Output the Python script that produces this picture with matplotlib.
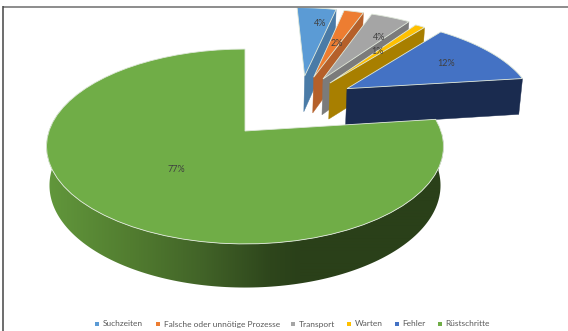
import numpy as np
import matplotlib
matplotlib.use('Agg')
import matplotlib.pyplot as plt
from matplotlib.patches import Polygon, Rectangle

categories = ['Suchzeiten', 'Falsche oder unnötige Prozesse', 'Transport', 'Warten', 'Fehler', 'Rüstschritte']
values = [4, 2, 4, 1, 12, 77]
labels = ['4%', '2%', '4%', '1%', '12%', '77%']

top_colors = ['#5b9bd5', '#ed7d31', '#a5a5a5', '#ffc000', '#4472c4', '#70ad47']
side_colors = ['#4a7ba7', '#b5602a', '#7b7b7b', '#a87f00', '#1a2b4f', '#2c4219']
# how far each slice is pulled out of the pie (pie radius = 1)
explode = [(0.335, 0.637), (0.385, 0.622), (0.436, 0.60), (0.471, 0.549), (0.56, 0.48), (0, 0)]
label_pos = [(320, 24), (337, 43), (379, 37), (377, 51), (446, 63), (176, 169)]
legend_x = [97, 158, 293, 349, 397, 440]

# perspective of the pie, in pixels
cx, cy = 245, 131
focal = 196
squash = 95
depth = 0.159
thick = 39


def project(x, y, z=0.0):
    den = 1 + depth * y - 0.015 * z
    return cx + focal * x / den, cy - (squash * y + thick * z) / den


def arc(a0, a1, off, z=0.0, n=60):
    t = np.radians(np.linspace(a0, a1, n))
    return np.array([project(np.sin(a) + off[0], np.cos(a) + off[1], z) for a in t])


def rim_shading(xs):
    # shading along the rim of the big slice, left to right
    stops = [45, 130, 200, 270, 300, 445]
    rs = [98, 82, 66, 46, 42, 42]
    gs = [152, 125, 100, 70, 64, 64]
    bs = [60, 48, 40, 28, 25, 25]
    rgb = [np.interp(xs, stops, ch) / 255 for ch in (rs, gs, bs)]
    return np.dstack(rgb)


fig = plt.figure(figsize=(5.68, 3.31), dpi=100)
ax = fig.add_axes([0, 0, 1, 1])
plot_area = Rectangle((3, 7), 565, 324, transform=ax.transData)

angles = np.concatenate([[0], np.cumsum(values) / np.sum(values) * 360])

for i in range(len(values)):
    a0, a1 = angles[i], angles[i + 1]
    off = explode[i]
    apex = project(off[0], off[1])
    apex_low = project(off[0], off[1], -1)
    top = arc(a0, a1, off)

    if i < 5:
        # cut face on the clockwise side of the slice
        end_top = top[-1]
        end_low = arc(a1, a1, off, -1, 1)[0]
        face = Polygon([apex, end_top, end_low, apex_low], closed=True, fc=side_colors[i], ec=side_colors[i], lw=0.3)
        ax.add_patch(face)
        face.set_clip_path(plot_area)
    else:
        # rim of the big slice, shaded with a horizontal gradient
        up = arc(a0 + 8, 282, off, 0, 170)
        low = arc(a0 + 8, 282, off, -1, 170)
        rim = Polygon(np.vstack([up, low[::-1]]), closed=True, fc='none', ec='none', transform=ax.transData)
        ax.add_patch(rim)
        grad = rim_shading(np.linspace(40, 450, 410)[None, :])
        img = ax.imshow(grad, extent=[40, 450, 300, 100], aspect='auto', interpolation='bilinear')
        img.set_clip_path(rim)

    wedge = Polygon(np.vstack([[apex], top]), closed=True, fc=top_colors[i], ec='#dfe8da', lw=0.6)
    ax.add_patch(wedge)
    wedge.set_clip_path(plot_area)

for (x, y), txt in zip(label_pos, labels):
    ax.text(x, y, txt, ha='center', va='center', fontsize=6.5, family='Lato', color='#404040')

# legend row
for x, name, c in zip(legend_x, categories, top_colors):
    ax.add_patch(Rectangle((x - 1.7, 322.3), 3.5, 3.5, fc=c, ec='none'))
    ax.text(x + 5.5, 324, name, ha='left', va='center', fontsize=6.05, family='Lato', color='#595959')

# frame lines along the top and left
ax.plot([2.5, 568], [6.5, 6.5], color='#6e6e6e', lw=1.1, solid_capstyle='butt')
ax.plot([2.5, 2.5], [6, 331], color='#454545', lw=1.1, solid_capstyle='butt')

ax.set_xlim(0, 568)
ax.set_ylim(331, 0)
ax.axis('off')

fig.savefig('out.png', dpi=100)
